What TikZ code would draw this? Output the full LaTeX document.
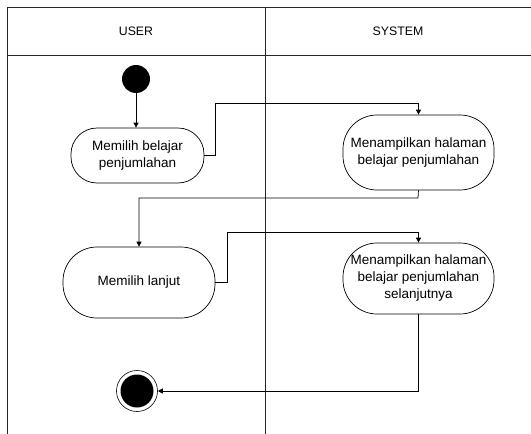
\documentclass[tikz,border=0pt]{standalone}
\usepackage{fontspec}
\setmainfont{Liberation Sans}
\usetikzlibrary{arrows.meta}
\begin{document}
\begin{tikzpicture}[x=1pt,y=-1pt,
  lane/.style={draw=black!85,line width=0.8pt},
  act/.style={draw=black,line width=0.7pt,align=center,inner sep=0pt,
    font=\fontsize{13.5}{17}\selectfont},
  flow/.style={draw=black,line width=0.7pt,-{Triangle[width=5pt,length=5pt]}},
  hdr/.style={font=\fontsize{12.3}{15}\selectfont}]
\useasboundingbox (0,0) rectangle (531,434);
% swimlane frame
\draw[lane] (531,7) -- (7,7) -- (7,434);
\draw[lane] (7,55) -- (531,55);
\draw[lane] (265,7) -- (265,434);
\node[hdr] (huser) at (136,31) {USER};
\node[hdr] (hsys) at (398,31) {SYSTEM};
% start and end
\node[circle,fill=black,minimum size=28pt,inner sep=0pt] (start) at (136,79) {};
\node[circle,draw=black,line width=0.6pt,minimum size=41pt,inner sep=0pt] (endo) at (137,391) {};
\node[circle,fill=black,minimum size=33pt,inner sep=0pt] (endi) at (137,391) {};
% activities
\node[act,minimum width=133pt,minimum height=55pt,rounded corners=26pt] (n1) at (137.5,155.5)
  {Memilih belajar\\penjumlahan};
\node[act,minimum width=151pt,minimum height=75pt,rounded corners=34pt] (n2) at (418.5,152.5)
  {Menampilkan halaman\\belajar penjumlahan};
\node[act,minimum width=152pt,minimum height=71pt,rounded corners=34pt] (n3) at (139,282.5)
  {Memilih lanjut};
\node[act,minimum width=151pt,minimum height=71pt,rounded corners=34pt] (n4) at (418.5,278.5)
  {Menampilkan halaman\\belajar penjumlahan\\selanjutnya};
% bend points
\coordinate (b1) at (215,103);
\coordinate (b2) at (418,198);
\coordinate (b3) at (227,232);
% transitions
\draw[flow] (start.south) -- (start.south |- n1.north);
\draw[flow] (n1.east) -| (b1) -| (n2.north);
\draw[flow] (n2.south) -- (b2) -| (n3.north);
\draw[flow] (n3.east) -| (b3) -| (n4.north);
\draw[flow] (n4.south) |- (endo.east);
\end{tikzpicture}
\end{document}
